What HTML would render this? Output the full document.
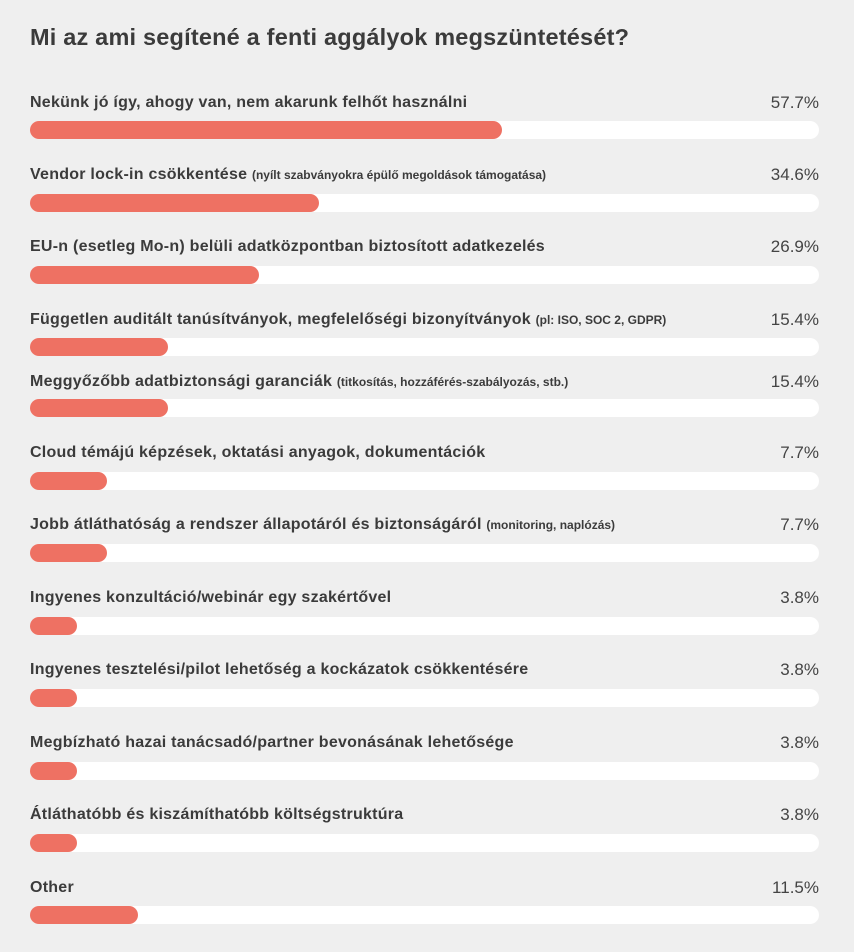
<!DOCTYPE html>
<html><head><meta charset="utf-8"><style>
body{margin:0;width:854px;height:952px;background:#efefef;font-family:"Liberation Sans",sans-serif;color:#3b3b3b;position:relative;overflow:hidden}
.t{position:absolute;left:30px;top:22px;font-size:23.5px;font-weight:bold;line-height:30px;letter-spacing:0.2px}
.l{position:absolute;left:30px;font-size:16px;font-weight:bold;line-height:20px;white-space:nowrap;letter-spacing:0.25px}
.l small{font-size:12px;letter-spacing:0}
.p{position:absolute;right:35px;font-size:17px;line-height:20px;color:#444}
.b{position:absolute;left:30px;width:789px;height:18px;border-radius:9px;background:#fff}
.b i{display:block;height:18px;border-radius:9px;background:#ee7163}
</style></head><body>
<div class="t">Mi az ami segítené a fenti aggályok megszüntetését?</div>

<div class="l" style="top:93px">Nekünk jó így, ahogy van, nem akarunk felhőt használni</div><div class="p" style="top:93px">57.7%</div><div class="b" style="top:121px"><i style="width:472px"></i></div>

<div class="l" style="top:165px">Vendor lock-in csökkentése <small>(nyílt szabványokra épülő megoldások támogatása)</small></div><div class="p" style="top:165px">34.6%</div><div class="b" style="top:194px"><i style="width:289px"></i></div>

<div class="l" style="top:237px">EU-n (esetleg Mo-n) belüli adatközpontban biztosított adatkezelés</div><div class="p" style="top:237px">26.9%</div><div class="b" style="top:266px"><i style="width:229px"></i></div>

<div class="l" style="top:310px">Független auditált tanúsítványok, megfelelőségi bizonyítványok <small>(pl: ISO, SOC 2, GDPR)</small></div><div class="p" style="top:310px">15.4%</div><div class="b" style="top:338px"><i style="width:138px"></i></div>

<div class="l" style="top:372px">Meggyőzőbb adatbiztonsági garanciák <small>(titkosítás, hozzáférés-szabályozás, stb.)</small></div><div class="p" style="top:372px">15.4%</div><div class="b" style="top:399px"><i style="width:138px"></i></div>

<div class="l" style="top:443px">Cloud témájú képzések, oktatási anyagok, dokumentációk</div><div class="p" style="top:443px">7.7%</div><div class="b" style="top:472px"><i style="width:77px"></i></div>

<div class="l" style="top:515px">Jobb átláthatóság a rendszer állapotáról és biztonságáról <small>(monitoring, naplózás)</small></div><div class="p" style="top:515px">7.7%</div><div class="b" style="top:544px"><i style="width:77px"></i></div>

<div class="l" style="top:588px">Ingyenes konzultáció/webinár egy szakértővel</div><div class="p" style="top:588px">3.8%</div><div class="b" style="top:617px"><i style="width:47px"></i></div>

<div class="l" style="top:660px">Ingyenes tesztelési/pilot lehetőség a kockázatok csökkentésére</div><div class="p" style="top:660px">3.8%</div><div class="b" style="top:689px"><i style="width:47px"></i></div>

<div class="l" style="top:733px">Megbízható hazai tanácsadó/partner bevonásának lehetősége</div><div class="p" style="top:733px">3.8%</div><div class="b" style="top:762px"><i style="width:47px"></i></div>

<div class="l" style="top:805px">Átláthatóbb és kiszámíthatóbb költségstruktúra</div><div class="p" style="top:805px">3.8%</div><div class="b" style="top:834px"><i style="width:47px"></i></div>

<div class="l" style="top:878px">Other</div><div class="p" style="top:878px">11.5%</div><div class="b" style="top:906px"><i style="width:108px"></i></div>
</body></html>
